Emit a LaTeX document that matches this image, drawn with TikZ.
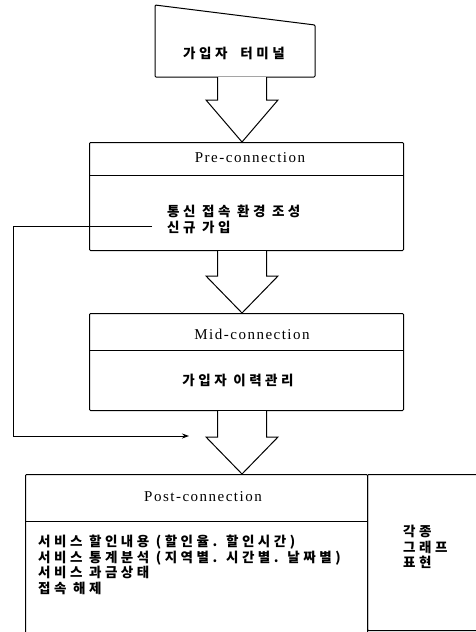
\documentclass[tikz,border=0pt]{standalone}
\usepackage{fontspec}
\newfontfamily\kr{Noto Sans CJK KR}[LetterSpace=26]
\newfontfamily\en{Liberation Serif}[LetterSpace=10]
\usetikzlibrary{calc,arrows.meta}
\tikzset{
  boxed/.style={draw, line width=1pt, rounded corners=1pt, inner sep=0pt},
  entext/.style={font=\en\fontsize{15}{17}\selectfont, inner sep=0pt},
  krtext/.style={font=\kr\bfseries\fontsize{13.5}{15.4}\selectfont, inner sep=0pt, align=left},
  blockarrow/.style={draw, fill=white, line width=1pt, line join=miter},
  loopline/.style={draw, line width=1pt, -{Stealth[length=7pt,width=5pt]}}
}
\begin{document}
\begin{tikzpicture}[x=1pt,y=-1pt]
\useasboundingbox (0,0) rectangle (476,632);
\def\ax{242pt}
% terminal
\draw[line width=1pt, rounded corners=1pt] (155,5) -- (315,25) -- (315,77) -- (155,77) -- cycle;
\coordinate (term) at (235,77);
\node[krtext] (termlabel) at (234,53) {가입자\hspace{13pt}터미널};
% pre-connection
\node[boxed, anchor=north west, minimum width=314pt, minimum height=108pt] (pre) at (89,142) {};
\draw[line width=1pt] ($(pre.north west)+(0,33)$) -- ($(pre.north east)+(0,33)$);
\node[entext] (prelabel) at (250,158) {Pre-connection};
\node[krtext, anchor=west] (pretext) at (167,219.5) {통신 접속 환경 조성\\신규 가입};
% mid-connection
\node[boxed, anchor=north west, minimum width=314pt, minimum height=97pt] (mid) at (89,313) {};
\draw[line width=1pt] ($(mid.north west)+(0,37)$) -- ($(mid.north east)+(0,37)$);
\node[entext] (midlabel) at (252,334) {Mid-connection};
\node[krtext] (midtext) at (238,380) {가입자 이력관리};
% post-connection
\node[boxed, anchor=north west, minimum width=342pt, minimum height=175pt] (post) at (25,474) {};
\draw[line width=1pt] ($(post.north west)+(0,47)$) -- ($(post.north east)+(0,47)$);
\node[entext] (postlabel) at (203,497) {Post-connection};
\node[krtext, anchor=west] (posttext) at (38,565) {서비스 할인내용 (할인율. 할인시간)\\서비스 통계분석 (지역별. 시간별. 날짜별)\\서비스 과금상태\\접속 해제};
\node[boxed, anchor=north west, minimum width=125pt, minimum height=156pt] (graph) at (367,474) {};
\node[krtext, anchor=west] (graphtext) at (403,547) {각종\\그래프\\표현};
% block arrows
\draw[blockarrow] let \p1=(term), \p2=(pre.north) in
  (\ax-24.5pt,\y1) -- (\ax-24.5pt,\y2+42pt) -- (\ax-36pt,\y2+42pt) -- (\ax,\y2)
  -- (\ax+36pt,\y2+42pt) -- (\ax+24.5pt,\y2+42pt) -- (\ax+24.5pt,\y1);
\draw[blockarrow] let \p1=(pre.south), \p2=(mid.north) in
  (\ax-24.5pt,\y1) -- (\ax-24.5pt,\y2+37pt) -- (\ax-36pt,\y2+37pt) -- (\ax,\y2)
  -- (\ax+36pt,\y2+37pt) -- (\ax+24.5pt,\y2+37pt) -- (\ax+24.5pt,\y1);
\draw[blockarrow] let \p1=(mid.south), \p2=(post.north) in
  (\ax-24.5pt,\y1) -- (\ax-24.5pt,\y2+37pt) -- (\ax-36pt,\y2+37pt) -- (\ax,\y2)
  -- (\ax+36pt,\y2+37pt) -- (\ax+24.5pt,\y2+37pt) -- (\ax+24.5pt,\y1);
% loop connector
\coordinate (loopstart) at (152,226);
\coordinate (loopend) at (189,436);
\draw[loopline] (loopstart) -- (13,226) -- (13,436) -- (loopend);
\end{tikzpicture}
\end{document}
